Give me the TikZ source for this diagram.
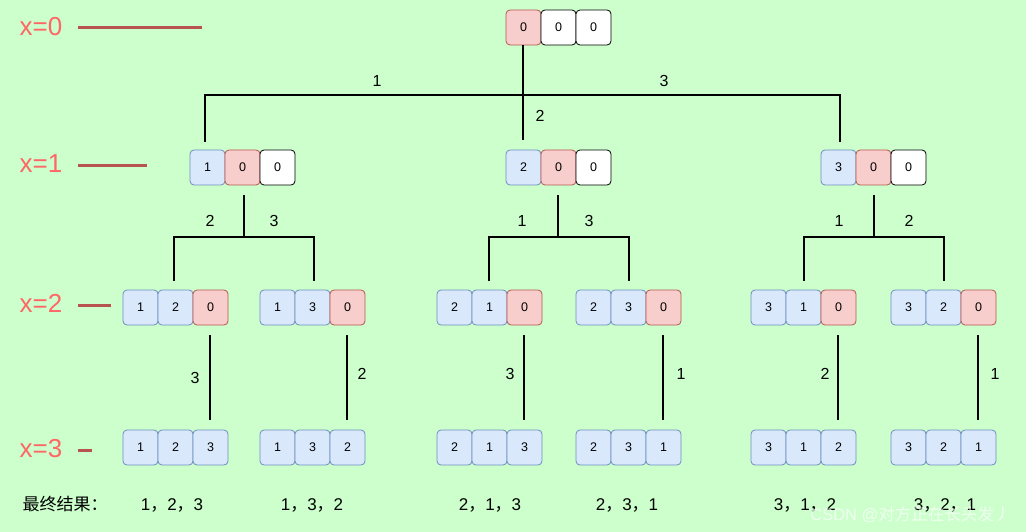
\documentclass[tikz,border=0pt]{standalone}
\usepackage{fontspec}
\setmainfont{Liberation Sans}
\newfontfamily\cjk{Noto Sans CJK SC}
\definecolor{bg}{HTML}{CCFFCC}
\definecolor{bluef}{HTML}{DAE8FC}
\definecolor{blued}{HTML}{6C8EBF}
\definecolor{redf}{HTML}{F8CECC}
\definecolor{redd}{HTML}{B85450}
\definecolor{lvl}{HTML}{FF6666}
\tikzset{
  cell/.style={draw, rounded corners=4pt, minimum width=35pt, minimum height=35pt, inner sep=0pt, font=\fontsize{12.5}{14}\selectfont, line width=0.8pt},
  bc/.style={cell, fill=bluef, draw=blued},
  rc/.style={cell, fill=redf, draw=redd},
  wc/.style={cell, fill=white, draw=black},
  conn/.style={line width=1.6pt, black},
  elab/.style={font=\fontsize{16}{18}\selectfont},
  lvltext/.style={text=lvl, font=\fontsize{26}{28}\selectfont},
  lvlline/.style={draw=redd, line width=3pt},
  res/.style={font=\fontsize{17}{19}\selectfont},
}
% \tri{name}{left x}{top y}{style1}{style2}{style3}{t1}{t2}{t3}
\newcommand\tri[9]{%
  \node[#4] (#1-1) at (#2+17.5, #3+17.5) {#7};
  \node[#5] (#1-2) at (#2+52.5, #3+17.5) {#8};
  \node[#6] (#1-3) at (#2+87.5, #3+17.5) {#9};
}
\begin{document}
\begin{tikzpicture}[x=1pt,y=-1pt]
\fill[bg] (0,0) rectangle (1026,532);
\useasboundingbox (0,0) rectangle (1026,532);

% level labels
\node[lvltext] (x0) at (41,27) {x=0};
\node[lvltext] (x1) at (41,164) {x=1};
\node[lvltext] (x2) at (41,303) {x=2};
\node[lvltext] (x3) at (41,449) {x=3};
\coordinate (x0a) at (78,28); \coordinate (x0b) at (202,28);
\coordinate (x1a) at (78,166); \coordinate (x1b) at (147,166);
\coordinate (x2a) at (78,305); \coordinate (x2b) at (111,305);
\coordinate (x3a) at (78,450); \coordinate (x3b) at (92,450);
\draw[lvlline] (x0a) -- (x0b);
\draw[lvlline] (x1a) -- (x1b);
\draw[lvlline] (x2a) -- (x2b);
\draw[lvlline] (x3a) -- (x3b);

% boxes
\tri{t}{506}{10}{rc}{wc}{wc}{0}{0}{0}
\tri{a}{190}{150}{bc}{rc}{wc}{1}{0}{0}
\tri{b}{506}{150}{bc}{rc}{wc}{2}{0}{0}
\tri{c}{821}{150}{bc}{rc}{wc}{3}{0}{0}
\tri{p1}{123}{290}{bc}{bc}{rc}{1}{2}{0}
\tri{p2}{260}{290}{bc}{bc}{rc}{1}{3}{0}
\tri{p3}{437}{290}{bc}{bc}{rc}{2}{1}{0}
\tri{p4}{576}{290}{bc}{bc}{rc}{2}{3}{0}
\tri{p5}{751}{290}{bc}{bc}{rc}{3}{1}{0}
\tri{p6}{891}{290}{bc}{bc}{rc}{3}{2}{0}
\tri{q1}{123}{430}{bc}{bc}{bc}{1}{2}{3}
\tri{q2}{260}{430}{bc}{bc}{bc}{1}{3}{2}
\tri{q3}{437}{430}{bc}{bc}{bc}{2}{1}{3}
\tri{q4}{576}{430}{bc}{bc}{bc}{2}{3}{1}
\tri{q5}{751}{430}{bc}{bc}{bc}{3}{1}{2}
\tri{q6}{891}{430}{bc}{bc}{bc}{3}{2}{1}

% level 0 -> 1
\coordinate (j0) at (523,95);
\coordinate (j0l) at (205,95);
\coordinate (j0r) at (840,95);
\coordinate (e0l) at (205,142);
\coordinate (e0m) at (523,140);
\coordinate (e0r) at (840,142);
\draw[conn] (t-1.south -| j0) -- (e0m);
\draw[conn] (e0l) -- (j0l) -- (j0r) -- (e0r);
\node[elab] (l01) at (377,81) {1};
\node[elab] (l02) at (540,116) {2};
\node[elab] (l03) at (664,81) {3};

% level 1 -> 2
\coordinate (ja) at (244,237); \coordinate (jal) at (174,237); \coordinate (jar) at (314,237);
\coordinate (eal) at (174,281); \coordinate (ear) at (314,281);
\draw[conn] ([yshift=-10pt]a-2.south -| ja) -- (ja);
\draw[conn] (eal) -- (jal) -- (jar) -- (ear);
\node[elab] (la2) at (210,221) {2};
\node[elab] (la3) at (274,221) {3};

\coordinate (jb) at (558,237); \coordinate (jbl) at (489,237); \coordinate (jbr) at (629,237);
\coordinate (ebl) at (489,281); \coordinate (ebr) at (629,281);
\draw[conn] ([yshift=-10pt]b-2.south -| jb) -- (jb);
\draw[conn] (ebl) -- (jbl) -- (jbr) -- (ebr);
\node[elab] (lb1) at (522,221) {1};
\node[elab] (lb3) at (589,221) {3};

\coordinate (jc) at (874,237); \coordinate (jcl) at (804,237); \coordinate (jcr) at (944,237);
\coordinate (ecl) at (804,281); \coordinate (ecr) at (944,281);
\draw[conn] ([yshift=-10pt]c-2.south -| jc) -- (jc);
\draw[conn] (ecl) -- (jcl) -- (jcr) -- (ecr);
\node[elab] (lc1) at (839,221) {1};
\node[elab] (lc2) at (909,221) {2};

% level 2 -> 3
\foreach \i in {1,...,6}{
  \draw[conn] ([yshift=-10pt,xshift=-0.5pt]p\i-3.south) -- ([yshift=10pt,xshift=-0.5pt]q\i-3.north);
}
\node[elab] (m1) at (195,378) {3};
\node[elab] (m2) at (362,374) {2};
\node[elab] (m3) at (510,374) {3};
\node[elab] (m4) at (681,374) {1};
\node[elab] (m5) at (825,374) {2};
\node[elab] (m6) at (995,374) {1};

% results
\node[res, anchor=west] (fin) at (19,504) {\cjk 最终结果：};
\node[res] (r1) at (172,505) {1{\cjk ，}2{\cjk ，}3};
\node[res] (r2) at (312,505) {1{\cjk ，}3{\cjk ，}2};
\node[res] (r3) at (490,505) {2{\cjk ，}1{\cjk ，}3};
\node[res] (r4) at (627,505) {2{\cjk ，}3{\cjk ，}1};
\node[res] (r5) at (805,505) {3{\cjk ，}1{\cjk ，}2};
\node[res] (r6) at (945,505) {3{\cjk ，}2{\cjk ，}1};

% watermark
\node[text=white, opacity=0.7, font=\fontsize{16.5}{18}\selectfont, anchor=east] (wm) at (1014,515) {CSDN @{\cjk 对方正在长头发丿}};
\end{tikzpicture}
\end{document}
